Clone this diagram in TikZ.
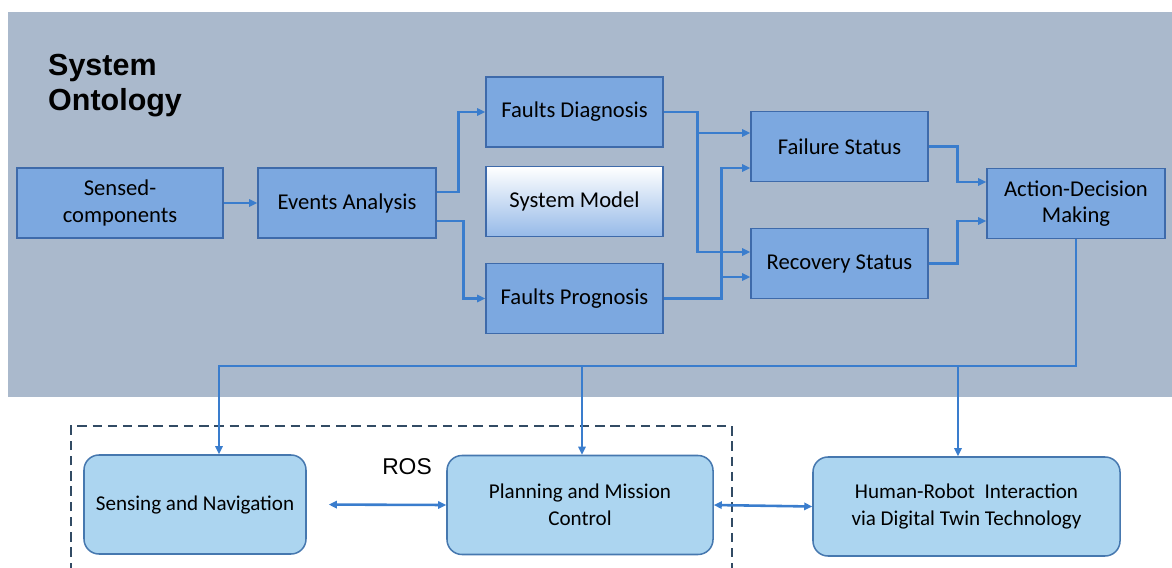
\documentclass[tikz,border=0pt]{standalone}
\usepackage{fontspec}
\setmainfont{Carlito}
\newfontfamily\headfont{Liberation Sans}
\usetikzlibrary{positioning,calc,arrows.meta}
\definecolor{bggray}{RGB}{170,185,204}
\definecolor{boxblue}{RGB}{124,168,224}
\definecolor{boxline}{RGB}{62,106,170}
\definecolor{modelblue}{RGB}{150,186,232}
\definecolor{wireblue}{RGB}{58,125,205}
\definecolor{lightbox}{RGB}{172,213,240}
\definecolor{lightline}{RGB}{70,120,175}
\definecolor{dashcol}{RGB}{50,75,100}
\newcommand\fsbox{\fontsize{19.3}{22.8}\selectfont}
\newcommand\fsrbox{\fontsize{18}{23}\selectfont}
\newcommand\fstitle{\headfont\bfseries\fontsize{26}{30}\selectfont}
\newcommand\fsros{\headfont\fontsize{19.5}{21}\selectfont}
\tikzset{
  wire/.style    = {draw=wireblue, line width=2.2pt},
  conn/.style    = {wire, -{Triangle[length=0.24cm,width=0.22cm]}},
  dconn/.style   = {wire, {Triangle[length=0.24cm,width=0.22cm]}-{Triangle[length=0.24cm,width=0.22cm]}},
  fbox/.style    = {draw=boxline, fill=boxblue, line width=1.3pt, minimum width=5.31cm,
                    minimum height=2.1cm, inner sep=2pt, align=center, font=\fsbox},
  mbox/.style    = {fbox, top color=white, bottom color=modelblue},
  rbox/.style    = {draw=lightline, fill=lightbox, line width=1.3pt, rounded corners=0.45cm,
                    minimum height=2.97cm, inner sep=2pt, align=center, font=\fsrbox},
  rosline/.style = {draw=dashcol, line width=1.3pt, dash pattern=on 8pt off 5pt},
}
\begin{document}
\begin{tikzpicture}[x=0.03cm, y=-0.03cm]
  \useasboundingbox (0,0) rectangle (1172,568);
  % ontology panel
  \fill[bggray] (8,12) rectangle (1172,397);
  \node[anchor=north west, align=left, inner sep=0pt, font=\fstitle] (ttl) at (48,54) {System\\Ontology};
  \node[fbox, minimum width=6.18cm] (sc) at (120,203) {Sensed-\\components};
  \node[fbox, minimum width=5.34cm] (ea) at (347,203) {Events Analysis};
  \node[fbox] (fd) at (574.5,112) {Faults Diagnosis};
  \node[mbox] (sm) at (574.5,201.5) {System Model};
  \node[fbox] (fp) at (574.5,298.5) {Faults Prognosis};
  \node[fbox] (fs) at (839.5,146.5) {Failure Status};
  \node[fbox] (rs) at (839.5,263.5) {Recovery Status};
  \node[fbox, minimum width=5.34cm] (adm) at (1076,203.5) {Action-Decision\\Making};
  \draw[conn] (sc) -- (ea);
  \draw[conn] ($(ea.east)+(0,-11)$) -| ($(fd.west)+(-27,0)$) -- (fd.west);
  \draw[conn] ($(ea.east)+(0,18)$) -| ($(fp.west)+(-22,0)$) -- (fp.west);
  \draw[conn] (fd.east) -| ($(rs.west)+(-53,-11.5)$) -- ($(rs.west)+(0,-11.5)$);
  \draw[conn] ($(fs.west)+(-53,-13.5)$) -- ($(fs.west)+(0,-13.5)$);
  \draw[conn] (fp.east) -| ($(fs.west)+(-29,21.5)$) -- ($(fs.west)+(0,21.5)$);
  \draw[conn] ($(rs.west)+(-29,13.5)$) -- ($(rs.west)+(0,13.5)$);
  \draw[conn] (fs.east) -| ($(adm.west)+(-29,-21.5)$) -- ($(adm.west)+(0,-21.5)$);
  \draw[conn] (rs.east) -| ($(adm.west)+(-29,17.5)$) -- ($(adm.west)+(0,17.5)$);
  % ROS and twin
  \draw[rosline] (71,572) |- (732,426) -- (732,572);
  \node[font=\fsros] (ros) at (407,467) {ROS};
  \node[rbox, minimum width=6.66cm] (sn) at (195,504.5) {Sensing and Navigation};
  \node[rbox, minimum width=7.98cm] (pm) at (580,505) {Planning and Mission\\Control};
  \node[rbox, minimum width=9.21cm] (hri) at (966.5,506.5) {Human-Robot~~Interaction\\via Digital Twin Technology};
  \coordinate (busL) at (219,366);
  \coordinate (busM) at (582,366);
  \coordinate (busR) at (958,366);
  \draw[conn] (adm.south) |- (busL) -- (busL |- sn.north);
  \draw[conn] (busM) -- (busM |- pm.north);
  \draw[conn] (busR) -- (busR |- hri.north);
  \draw[dconn, shorten <=0.66cm] (sn.east) -- (pm.west);
  \draw[dconn] (pm.east) -- (hri.west);
\end{tikzpicture}
\end{document}
